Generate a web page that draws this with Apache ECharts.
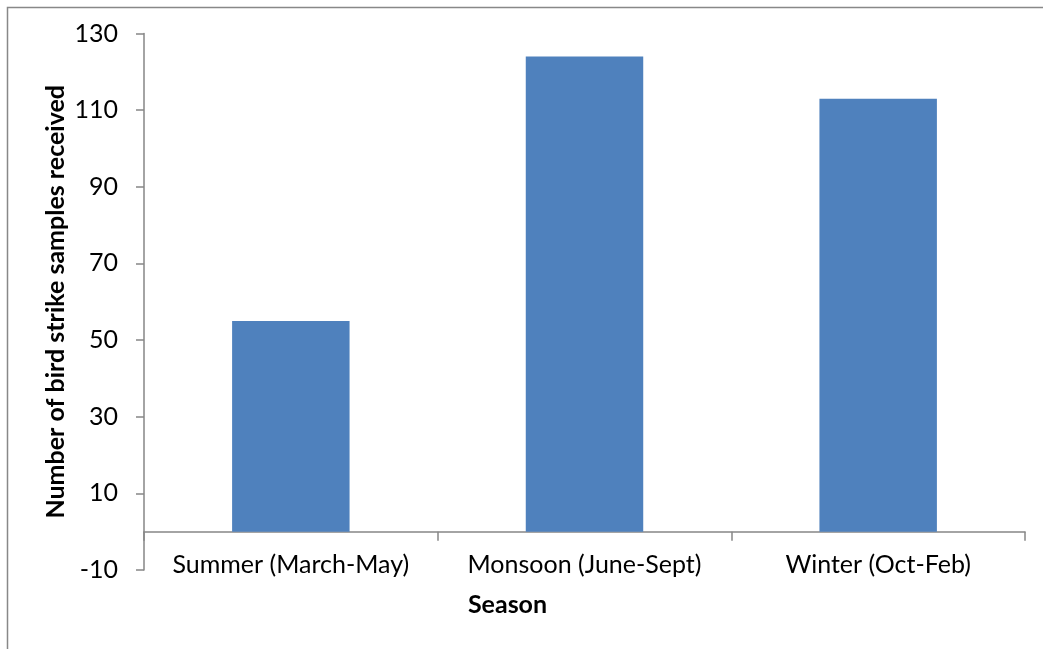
<!DOCTYPE html>
<html>
<head>
<meta charset="utf-8">
<script src="https://cdn.jsdelivr.net/npm/echarts@6/dist/echarts.min.js"></script>
<style>html,body{margin:0;padding:0;background:#fff;}#c{width:1043px;height:649px;}</style>
</head>
<body>
<div id="c"></div>
<script>
const categories = ['Summer (March-May)', 'Monsoon (June-Sept)', 'Winter (Oct-Feb)'];
const samples = [55, 124, 113];
const yTicks = [-10, 10, 30, 50, 70, 90, 110, 130];
const xTitle = 'Season';
const yTitle = 'Number of bird strike samples received';

const font = 'Lato, "Open Sans", sans-serif';
const chart = echarts.init(document.getElementById('c'));
chart.setOption({
  animation: false,
  backgroundColor: '#fff',
  graphic: [{
    type: 'rect', left: 5, top: 5, shape: { width: 1200, height: 800 },
    style: { fill: 'none', stroke: '#888', lineWidth: 1.5 }, silent: true
  }],
  grid: { left: 144, right: 18, top: 33.5, bottom: 79, outerBoundsMode: 'none', containLabel: false },
  xAxis: {
    type: 'category', data: categories,
    axisLine: { onZero: true, lineStyle: { color: '#868686', width: 1.5 } },
    axisTick: { show: true, interval: 0, length: 9, lineStyle: { color: '#868686', width: 1.5 } },
    axisLabel: { interval: 0, color: '#000', fontFamily: font, fontSize: 25, margin: -18 },
    name: xTitle, nameLocation: 'middle', nameGap: 22,
    nameTextStyle: { color: '#000', fontFamily: font, fontSize: 25, fontWeight: 'bold', padding: [0, 154, 0, 0] }
  },
  yAxis: {
    type: 'value', min: -10, max: 130,
    splitLine: { show: false },
    axisLine: { show: true, lineStyle: { color: '#868686', width: 1.5 } },
    axisTick: { show: true, length: 8, customValues: yTicks, lineStyle: { color: '#868686', width: 1.5 } },
    axisLabel: { color: '#000', fontFamily: font, fontSize: 25, margin: 26, customValues: yTicks },
    name: yTitle, nameLocation: 'middle', nameGap: 76, nameMoveOverlap: false,
    nameTextStyle: { color: '#000', fontFamily: font, fontSize: 25, fontWeight: 'bold' }
  },
  series: [{
    type: 'bar', data: samples, barWidth: '40%',
    itemStyle: { color: '#4F81BD' }
  }]
});
</script>
</body>
</html>
